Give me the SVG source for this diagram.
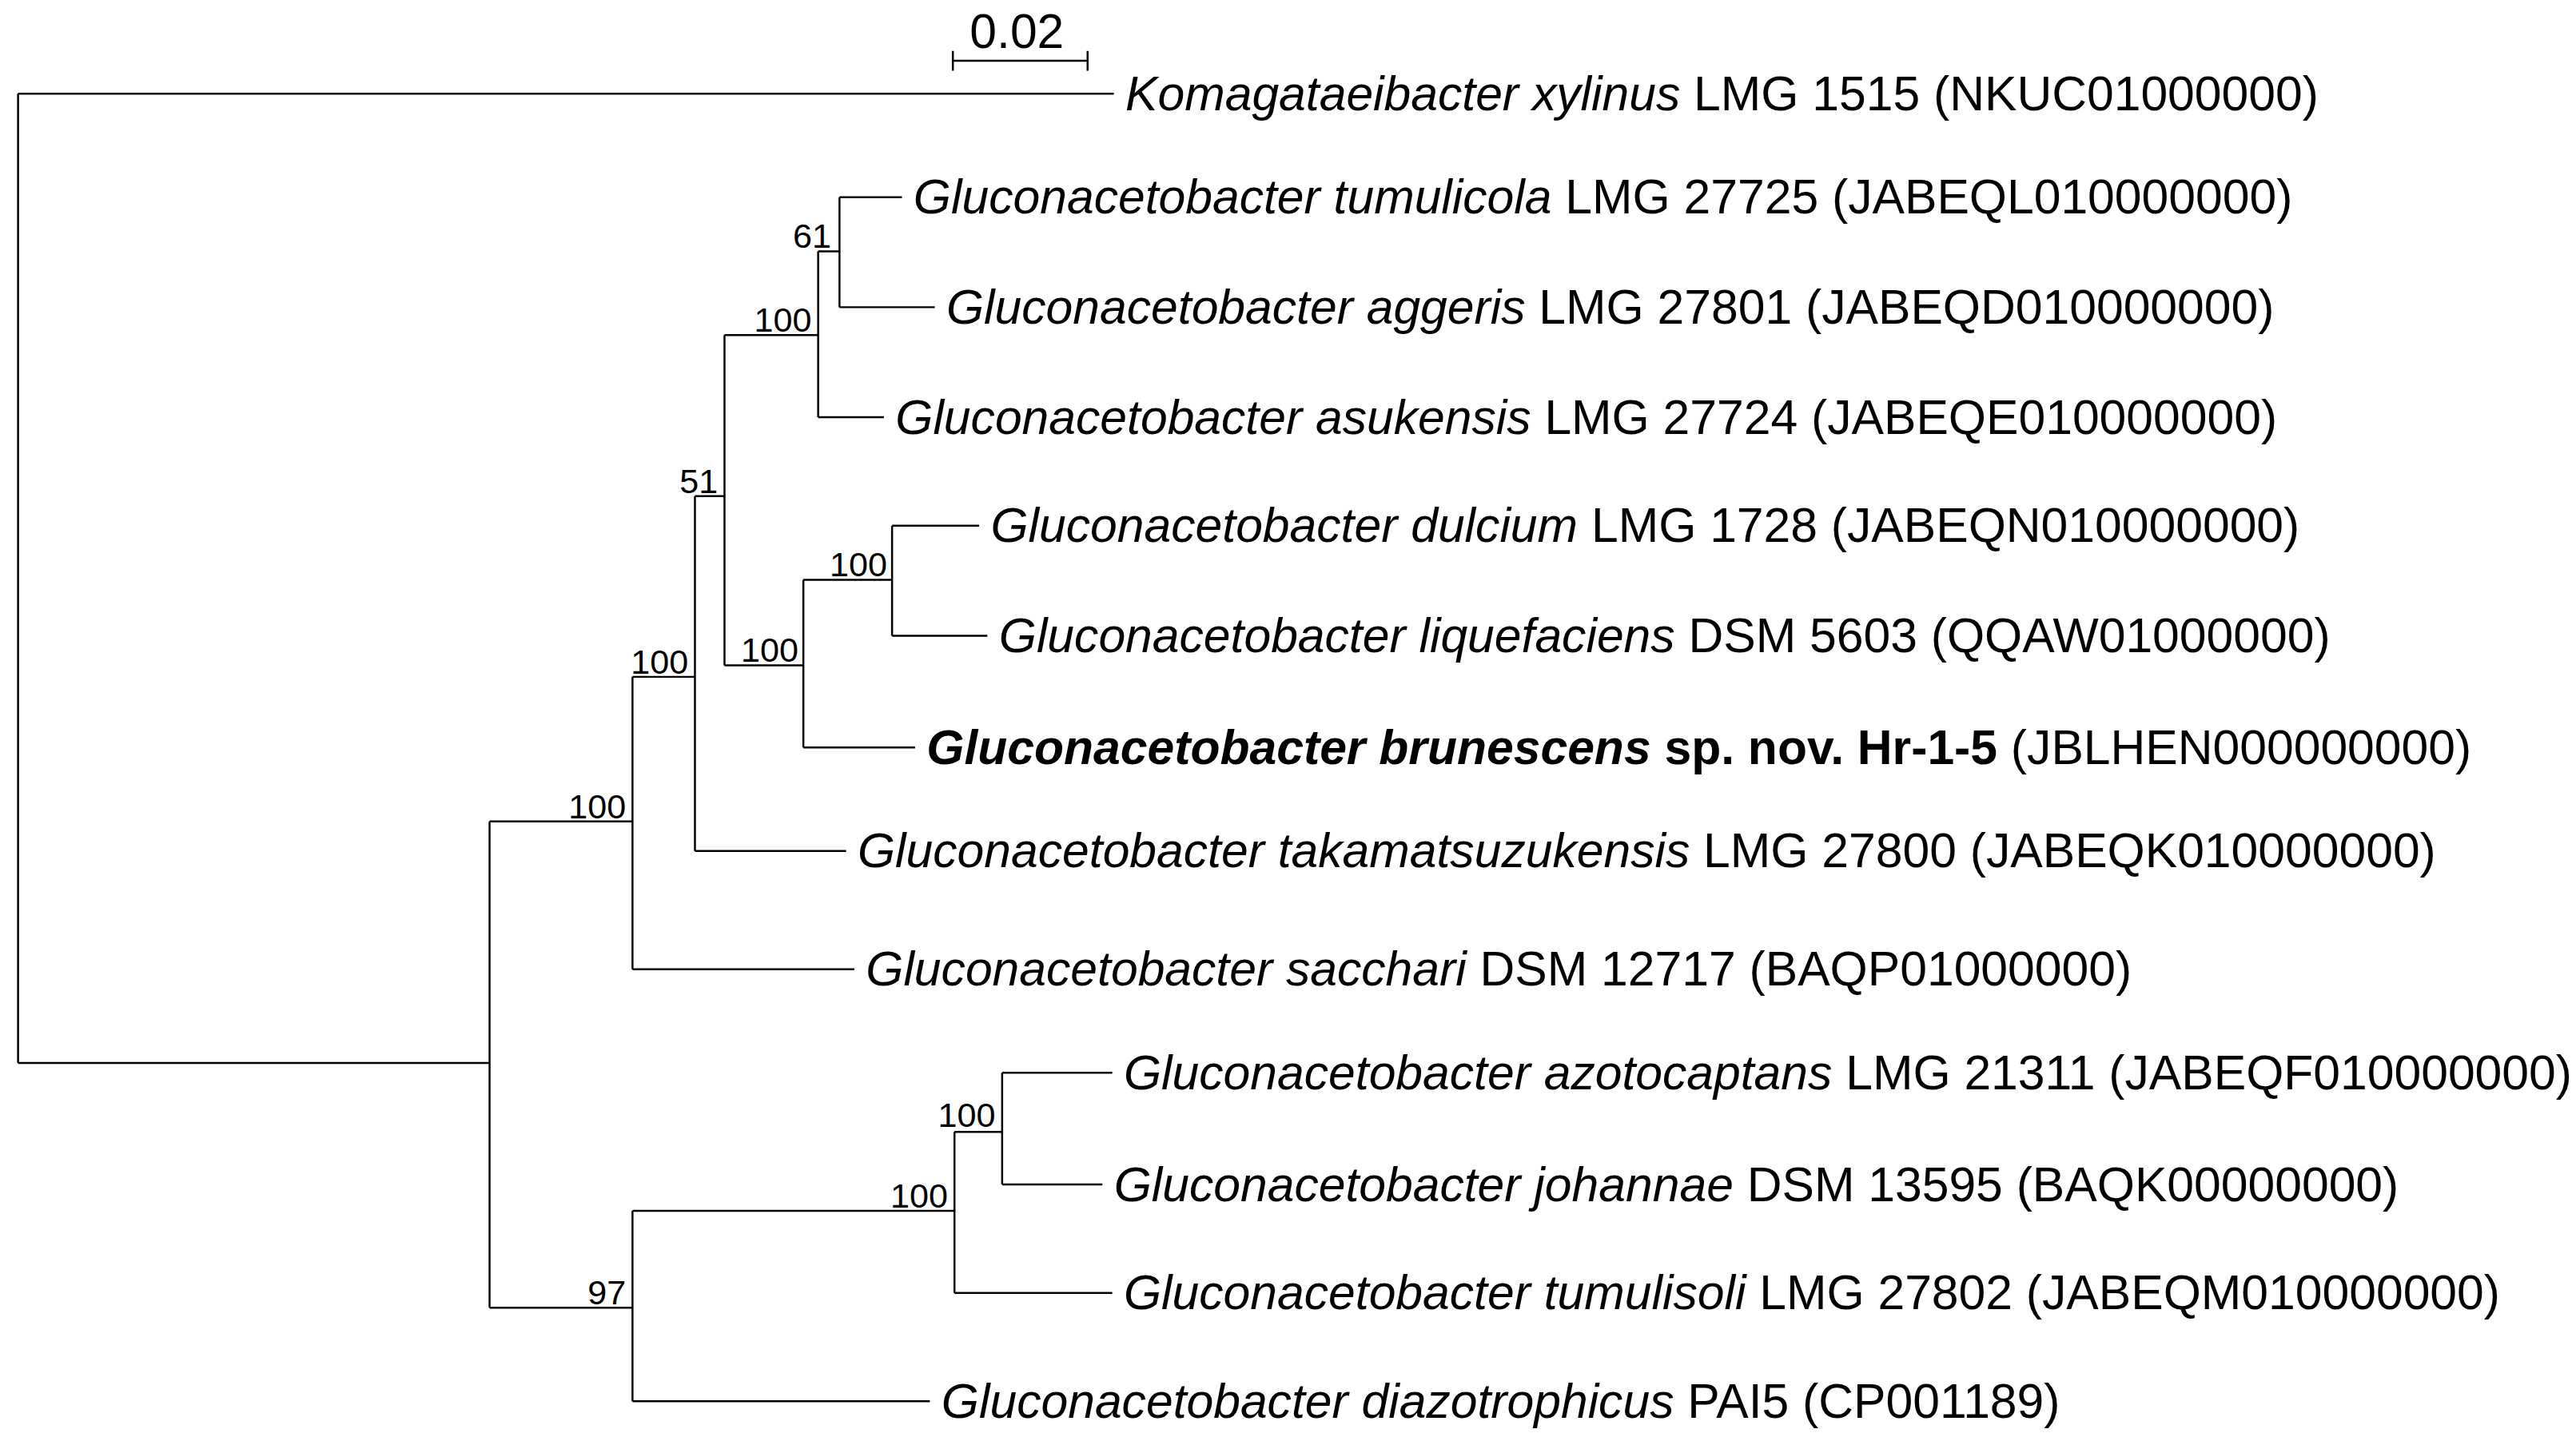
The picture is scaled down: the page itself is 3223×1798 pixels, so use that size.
<svg xmlns="http://www.w3.org/2000/svg" width="3223" height="1798" viewBox="0 0 3223 1798">
<style>
.t{font-family:"Liberation Sans",Arial,sans-serif;font-size:29.5px;fill:#000}
.s{font-family:"Liberation Sans",Arial,sans-serif;font-size:21px;fill:#000;text-anchor:end}
path{stroke:#000;stroke-width:1.2;fill:none}
</style>
<rect width="3223" height="1798" fill="#fff"/>
<g transform="scale(2.0555)">
<g id="connectors">
<path d="M11,57V647M11,57H678M11,647H298"/>
<path d="M580,37H662M580,31V43M662,31V43"/>
<path d="M298,500V796M298,500H385M298,796H385"/>
<path d="M385,412V590M385,590H520M385,412H423"/>
<path d="M423,302V518M423,518H515M423,302H441"/>
<path d="M441,204V405M441,204H498M441,405H489"/>
<path d="M498,153V254M498,254H538M498,153H511"/>
<path d="M511,120V187M511,120H549M511,187H569"/>
<path d="M489,353V455M489,455H557M489,353H543"/>
<path d="M543,320V387M543,320H596M543,387H601"/>
<path d="M385,737V853M385,853H566M385,737H581"/>
<path d="M581,689V787M581,787H677M581,689H610"/>
<path d="M610,653V721M610,653H677M610,721H671"/>
</g>
<g id="scale"><text class="t" x="619" y="29" text-anchor="middle" font-size="18.5">0.02</text></g>
<g id="supports">
<text class="s" x="506" y="151">61</text>
<text class="s" x="494" y="202">100</text>
<text class="s" x="437" y="300">51</text>
<text class="s" x="540" y="351">100</text>
<text class="s" x="486" y="403">100</text>
<text class="s" x="419" y="410">100</text>
<text class="s" x="381" y="498">100</text>
<text class="s" x="606" y="686">100</text>
<text class="s" x="577" y="735">100</text>
<text class="s" x="381" y="794">97</text>
</g>
<g id="n1"><text class="t" x="685" y="67"><tspan font-style="italic">Komagataeibacter xylinus</tspan> LMG 1515 (NKUC01000000)</text></g>
<g id="n2"><text class="t" x="556" y="130"><tspan font-style="italic">Gluconacetobacter tumulicola</tspan> LMG 27725 (JABEQL010000000)</text></g>
<g id="n3"><text class="t" x="576" y="197"><tspan font-style="italic">Gluconacetobacter aggeris</tspan> LMG 27801 (JABEQD010000000)</text></g>
<g id="n4"><text class="t" x="545" y="264"><tspan font-style="italic">Gluconacetobacter asukensis</tspan> LMG 27724 (JABEQE010000000)</text></g>
<g id="n5"><text class="t" x="603" y="330"><tspan font-style="italic">Gluconacetobacter dulcium</tspan> LMG 1728 (JABEQN010000000)</text></g>
<g id="n6"><text class="t" x="608" y="397"><tspan font-style="italic">Gluconacetobacter liquefaciens</tspan> DSM 5603 (QQAW01000000)</text></g>
<g id="n7"><text class="t" x="564" y="465"><tspan font-weight="bold" font-style="italic">Gluconacetobacter brunescens</tspan><tspan font-weight="bold"> sp. nov. Hr-1-5</tspan> (JBLHEN000000000)</text></g>
<g id="n8"><text class="t" x="522" y="528"><tspan font-style="italic">Gluconacetobacter takamatsuzukensis</tspan> LMG 27800 (JABEQK010000000)</text></g>
<g id="n9"><text class="t" x="527" y="600"><tspan font-style="italic">Gluconacetobacter sacchari</tspan> DSM 12717 (BAQP01000000)</text></g>
<g id="n10"><text class="t" x="684" y="663"><tspan font-style="italic">Gluconacetobacter azotocaptans</tspan> LMG 21311 (JABEQF010000000)</text></g>
<g id="n11"><text class="t" x="678" y="731"><tspan font-style="italic">Gluconacetobacter johannae</tspan> DSM 13595 (BAQK00000000)</text></g>
<g id="n12"><text class="t" x="684" y="797"><tspan font-style="italic">Gluconacetobacter tumulisoli</tspan> LMG 27802 (JABEQM010000000)</text></g>
<g id="n13"><text class="t" x="573" y="863"><tspan font-style="italic">Gluconacetobacter diazotrophicus</tspan> PAI5 (CP001189)</text></g>
</g>
</svg>
